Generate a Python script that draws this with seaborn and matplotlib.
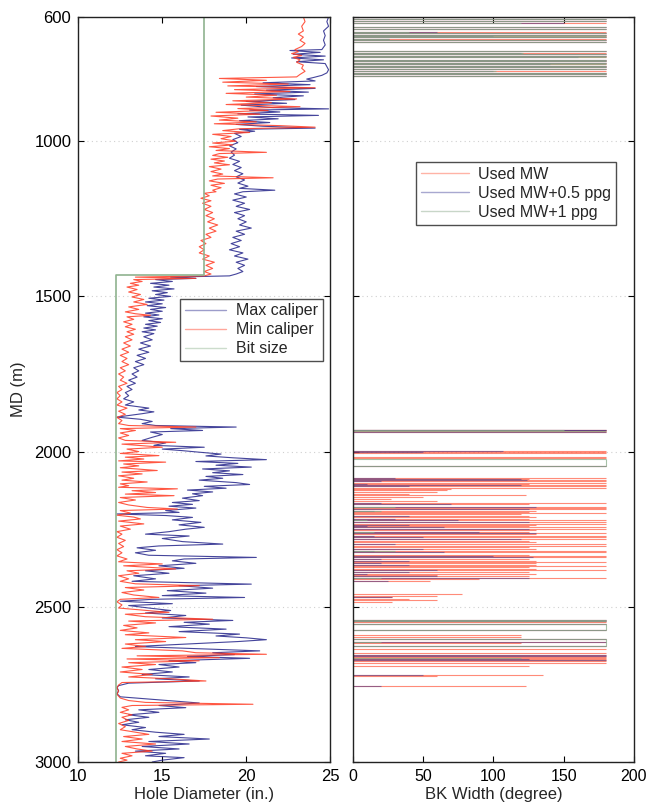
import numpy as np
import pandas as pd
import matplotlib
matplotlib.use("Agg")
import matplotlib.pyplot as plt
import seaborn as sns

# ---- caliper log (MD in m, diameter in inches) ----
max_depth = [600, 615, 630, 645, 660, 675, 690, 705, 708, 714, 720, 726, 732, 738, 744, 750, 760, 770, 780, 788,
             795, 800, 806, 812, 818, 824, 830, 836, 842, 848, 854, 860, 866, 872, 878, 884, 892, 896, 900, 906,
             912, 917, 922, 928, 934, 940, 946, 952, 958, 962, 968, 975, 985, 995, 1005, 1015, 1025, 1035, 1045, 1055,
             1065, 1075, 1085, 1095, 1105, 1115, 1125, 1135, 1145, 1152, 1158, 1163, 1170, 1180, 1190, 1200, 1210, 1220, 1230, 1240,
             1250, 1260, 1270, 1280, 1290, 1300, 1310, 1320, 1330, 1340, 1350, 1360, 1370, 1380, 1390, 1400, 1410, 1420, 1428, 1434,
             1438, 1442, 1446, 1452, 1458, 1464, 1470, 1476, 1482, 1488, 1494, 1500, 1506, 1512, 1518, 1524, 1530, 1536, 1542, 1548,
             1554, 1560, 1566, 1572, 1578, 1584, 1590, 1596, 1602, 1608, 1614, 1620, 1630, 1640, 1650, 1660, 1670, 1680, 1690, 1700,
             1710, 1720, 1730, 1740, 1750, 1760, 1770, 1780, 1790, 1800, 1810, 1820, 1830, 1840, 1850, 1860, 1866, 1872, 1878, 1889,
             1896, 1903, 1910, 1916, 1921, 1926, 1932, 1937, 1945, 1954, 1964, 1972, 1980, 1986, 1992, 1997, 2002, 2008, 2014, 2020,
             2026, 2032, 2038, 2044, 2050, 2056, 2062, 2068, 2074, 2080, 2086, 2092, 2100, 2106, 2112, 2118, 2124, 2130, 2136, 2142,
             2150, 2158, 2164, 2170, 2176, 2182, 2190, 2196, 2201, 2206, 2212, 2220, 2228, 2236, 2244, 2250, 2258, 2266, 2272, 2280,
             2290, 2298, 2304, 2310, 2318, 2326, 2334, 2341, 2346, 2352, 2360, 2368, 2376, 2384, 2392, 2400, 2410, 2418, 2427, 2432,
             2440, 2448, 2456, 2464, 2470, 2476, 2482, 2490, 2496, 2504, 2512, 2520, 2528, 2536, 2544, 2550, 2556, 2564, 2572, 2580,
             2588, 2594, 2600, 2606, 2612, 2620, 2628, 2636, 2642, 2648, 2654, 2660, 2666, 2674, 2680, 2686, 2694, 2702, 2710, 2718,
             2726, 2732, 2739, 2746, 2754, 2760, 2770, 2780, 2790, 2803, 2810, 2818, 2825, 2832, 2840, 2848, 2856, 2864, 2872, 2880,
             2889, 2896, 2904, 2911, 2918, 2926, 2934, 2942, 2950, 2958, 2965, 2972, 2980, 2986, 2994, 3000]
max_caliper = [24.9, 24.8, 24.9, 24.6, 24.7, 24.6, 24.7, 24.5, 22.6, 24.4, 22.8, 24.7, 22.7, 24.6, 23.0, 24.7, 24.8, 24.9, 24.8, 24.5,
               24.0, 23.6, 24.1, 21.0, 23.8, 20.6, 24.1, 21.2, 23.7, 20.5, 23.4, 21.6, 22.9, 20.0, 22.4, 19.7, 21.6, 24.9, 20.2, 22.0,
               19.5, 24.3, 20.1, 21.9, 19.6, 21.4, 19.4, 21.0, 24.1, 19.6, 20.5, 19.3, 19.7, 19.2, 19.5, 19.0, 19.4, 19.1, 19.3, 19.0,
               19.6, 19.2, 19.7, 19.3, 19.8, 19.4, 19.9, 19.5, 20.1, 19.6, 21.7, 19.8, 19.3, 20.0, 19.2, 19.9, 19.4, 20.2, 19.3, 19.9,
               19.5, 20.0, 19.6, 20.3, 19.4, 19.9, 19.2, 19.7, 19.1, 19.6, 19.0, 19.8, 19.3, 20.1, 19.4, 19.9, 19.5, 19.8, 19.4, 19.0,
               15.5, 17.0, 14.6, 15.6, 14.3, 15.4, 14.5, 15.7, 14.4, 15.3, 14.6, 15.5, 14.2, 15.1, 14.0, 15.0, 14.1, 15.2, 14.3, 15.0,
               14.0, 14.8, 13.9, 15.0, 14.2, 14.9, 14.0, 14.7, 13.9, 14.6, 13.8, 14.5, 13.9, 14.4, 13.7, 14.3, 13.6, 14.2, 13.5, 14.0,
               13.4, 13.9, 13.3, 13.6, 13.2, 13.5, 13.0, 13.4, 12.9, 13.2, 12.8, 13.0, 12.7, 13.3, 12.8, 14.2, 13.6, 14.5, 13.8, 12.3,
               13.7, 14.4, 13.8, 14.6, 19.4, 15.5, 17.4, 14.3, 15.0, 14.4, 13.8, 15.2, 14.5, 17.5, 15.0, 16.2, 17.2, 18.5, 17.6, 19.2,
               21.2, 17.0, 19.5, 18.2, 20.3, 17.4, 19.0, 18.0, 19.8, 17.6, 18.6, 17.2, 19.4, 20.2, 17.5, 18.8, 16.5, 18.0, 16.8, 17.4,
               16.2, 17.2, 15.6, 16.8, 15.4, 17.0, 15.2, 16.0, 12.3, 15.2, 16.8, 15.6, 17.3, 16.0, 17.5, 16.4, 15.4, 14.0, 16.6, 15.0,
               16.2, 18.6, 14.8, 13.5, 14.6, 13.4, 14.2, 20.6, 16.3, 15.6, 17.0, 14.8, 16.3, 14.0, 15.4, 13.3, 14.6, 13.2, 20.3, 16.0,
               18.0, 15.3, 17.6, 15.0, 19.9, 14.4, 12.5, 15.6, 13.0, 14.2, 15.5, 14.0, 16.4, 15.0, 19.2, 16.3, 17.8, 15.4, 18.8, 16.0,
               19.6, 18.2, 20.0, 21.2, 19.5, 16.5, 13.4, 17.6, 20.8, 18.0, 19.3, 16.5, 20.2, 15.4, 17.0, 14.8, 16.0, 14.2, 15.6, 13.8,
               16.6, 14.6, 17.2, 13.0, 12.4, 12.3, 12.4, 12.3, 12.5, 15.6, 17.2, 14.8, 16.4, 13.6, 14.8, 13.0, 14.2, 12.8, 13.6, 12.6,
               14.0, 13.2, 14.6, 16.3, 14.8, 17.8, 14.2, 16.6, 13.8, 16.0, 13.4, 15.2, 14.0, 16.3, 15.0, 14.4]

min_depth = [600, 615, 630, 645, 655, 665, 675, 685, 695, 705, 712, 718, 724, 730, 738, 746, 755, 765, 775, 785,
             793, 798, 804, 810, 816, 822, 828, 834, 840, 846, 852, 858, 864, 870, 876, 882, 889, 895, 901, 907,
             913, 919, 926, 932, 938, 944, 950, 955, 960, 966, 972, 978, 985, 992, 1000, 1006, 1012, 1018, 1024, 1030,
             1036, 1040, 1046, 1052, 1058, 1064, 1070, 1076, 1082, 1090, 1098, 1106, 1112, 1118, 1122, 1128, 1136, 1142, 1150, 1158,
             1163, 1168, 1176, 1184, 1192, 1200, 1210, 1220, 1230, 1240, 1250, 1260, 1270, 1280, 1290, 1300, 1310, 1320, 1330, 1340,
             1350, 1360, 1370, 1380, 1390, 1400, 1410, 1420, 1428, 1434, 1438, 1442, 1446, 1452, 1458, 1464, 1470, 1478, 1486, 1494,
             1502, 1510, 1518, 1526, 1534, 1542, 1550, 1556, 1561, 1566, 1574, 1582, 1590, 1598, 1606, 1614, 1622, 1630, 1640, 1650,
             1660, 1670, 1680, 1690, 1700, 1710, 1720, 1730, 1740, 1750, 1760, 1770, 1780, 1790, 1800, 1810, 1820, 1830, 1840, 1850,
             1860, 1870, 1880, 1890, 1900, 1910, 1916, 1921, 1926, 1932, 1940, 1948, 1956, 1964, 1970, 1976, 1986, 1992, 2000, 2006,
             2013, 2018, 2024, 2030, 2034, 2040, 2046, 2052, 2061, 2066, 2072, 2078, 2086, 2092, 2098, 2104, 2110, 2115, 2120, 2126,
             2132, 2137, 2142, 2148, 2156, 2164, 2172, 2180, 2185, 2190, 2198, 2205, 2211, 2217, 2224, 2233, 2240, 2250, 2258, 2266,
             2276, 2286, 2296, 2306, 2316, 2326, 2336, 2346, 2355, 2362, 2368, 2378, 2384, 2392, 2400, 2410, 2418, 2426, 2432, 2438,
             2446, 2454, 2462, 2470, 2476, 2484, 2494, 2504, 2510, 2518, 2524, 2532, 2540, 2546, 2552, 2560, 2568, 2576, 2584, 2590,
             2599, 2606, 2612, 2620, 2628, 2634, 2642, 2648, 2653, 2658, 2664, 2668, 2674, 2680, 2686, 2694, 2702, 2710, 2718, 2726,
             2732, 2739, 2744, 2752, 2762, 2772, 2782, 2794, 2802, 2808, 2814, 2818, 2824, 2832, 2840, 2848, 2856, 2866, 2876, 2886,
             2896, 2904, 2911, 2918, 2926, 2934, 2942, 2950, 2958, 2965, 2972, 2980, 2988, 2994, 3000]
min_caliper = [23.4, 23.5, 23.3, 23.4, 23.1, 23.4, 23.2, 23.5, 23.3, 22.9, 23.1, 22.7, 23.3, 22.8, 23.2, 23.0, 23.4, 23.3, 23.5, 23.2,
               23.0, 18.4, 21.2, 18.6, 22.5, 18.9, 24.1, 19.3, 22.6, 18.8, 21.8, 20.0, 23.0, 19.2, 21.5, 18.8, 23.2, 19.5, 21.3, 18.2,
               20.8, 17.9, 19.5, 18.4, 20.6, 18.1, 22.0, 24.1, 19.6, 18.6, 20.2, 18.0, 19.1, 18.5, 19.4, 18.0, 19.2, 17.8, 19.0, 18.2,
               21.2, 18.4, 18.0, 18.9, 17.9, 18.7, 18.1, 19.0, 17.8, 18.5, 17.9, 18.6, 18.0, 21.6, 18.3, 17.8, 18.7, 17.9, 18.5, 18.0,
               18.2, 17.5, 17.8, 17.3, 17.9, 17.4, 17.9, 17.5, 18.0, 17.6, 18.1, 17.7, 18.3, 17.8, 18.2, 17.6, 17.9, 17.3, 17.6, 17.2,
               17.5, 17.2, 17.8, 17.4, 18.1, 17.6, 18.0, 17.5, 17.9, 17.5, 13.4, 17.0, 13.3, 13.8, 13.1, 13.6, 12.9, 13.5, 13.0, 13.7,
               13.2, 13.9, 13.3, 14.1, 13.0, 13.6, 12.8, 13.4, 14.3, 12.9, 13.3, 12.7, 13.2, 12.8, 13.4, 12.9, 13.3, 12.8, 13.2, 12.7,
               13.1, 12.6, 13.0, 12.5, 12.9, 12.6, 13.0, 12.5, 12.8, 12.4, 12.7, 12.5, 12.9, 12.4, 12.6, 12.3, 12.5, 12.3, 12.6, 12.3,
               12.9, 12.4, 12.8, 12.3, 12.6, 12.4, 13.0, 17.0, 12.5, 13.4, 12.5, 13.0, 12.4, 12.8, 15.8, 12.6, 15.0, 12.9, 13.6, 12.5,
               14.8, 12.8, 13.9, 12.4, 15.2, 12.7, 13.6, 12.5, 14.7, 12.6, 13.8, 12.4, 13.3, 12.6, 14.1, 12.5, 13.0, 12.4, 15.9, 13.2,
               14.6, 12.8, 15.7, 12.5, 13.4, 12.4, 13.0, 14.1, 15.9, 12.5, 13.1, 12.3, 13.3, 13.7, 12.4, 13.9, 12.5, 13.1, 12.3, 12.6,
               12.3, 12.8, 12.4, 12.7, 12.3, 12.6, 12.3, 12.9, 12.4, 15.0, 12.7, 15.8, 12.9, 13.6, 12.4, 13.0, 12.5, 13.4, 17.2, 12.8,
               13.9, 12.6, 13.3, 14.8, 12.5, 12.3, 12.6, 12.4, 13.7, 15.4, 12.8, 14.0, 18.0, 13.0, 14.6, 12.7, 13.5, 12.5, 14.2, 12.8,
               16.4, 13.4, 15.2, 12.8, 14.0, 12.6, 16.2, 17.0, 21.2, 13.5, 18.4, 12.9, 17.2, 13.0, 14.6, 12.6, 13.8, 12.5, 14.4, 13.0,
               15.5, 17.6, 12.6, 12.4, 12.3, 12.4, 12.3, 12.5, 13.0, 14.0, 20.4, 13.2, 12.6, 13.0, 12.5, 13.2, 12.6, 13.0, 12.4, 12.8,
               12.5, 13.4, 14.2, 12.7, 13.8, 12.6, 14.6, 12.8, 13.5, 14.4, 12.6, 13.2, 12.5, 12.9, 12.4]

bit_depth = [600, 1432, 1432, 3000]
bit_size = [17.5, 17.5, 12.25, 12.25]

# ---- breakout widths (degrees) at MD (m) ----
top_depths = [606, 612, 620, 633, 638, 647, 653, 657, 661, 666, 670, 674, 679,
              709, 715, 720, 726, 730, 737, 742, 747, 752, 757, 762, 769, 774, 780, 784, 790]

bk_mw_depth = top_depths + [1929, 1931, 1933, 1938, 1999, 2002, 2005, 2018, 2020, 2048,
                            2085, 2088, 2092, 2096, 2100, 2104, 2108, 2112, 2117, 2120, 2124, 2131, 2136, 2140, 2146,
                            2153, 2158, 2165, 2170, 2177, 2181, 2185, 2190, 2194, 2198, 2201, 2206, 2212, 2217, 2222,
                            2228, 2232, 2236, 2240, 2244, 2248, 2253, 2258, 2263, 2267, 2271, 2276, 2282, 2287, 2292,
                            2297, 2303, 2308, 2314, 2319, 2325, 2332, 2336, 2341, 2346, 2352, 2356, 2360, 2364, 2369,
                            2373, 2378, 2383, 2389, 2393, 2397, 2402, 2408, 2412, 2416,
                            2459, 2464, 2468, 2474, 2479, 2486,
                            2543, 2545, 2549, 2554, 2576, 2592, 2597, 2604, 2612, 2618, 2626, 2636,
                            2650, 2654, 2658, 2662, 2665, 2668, 2672, 2676, 2680, 2690, 2720, 2723, 2756]
bk_mw_width = [180] * len(top_depths) + [180, 180, 180, 180, 180, 180, 180, 180, 180, 180,
                                         180, 125, 180, 180, 180, 125, 180, 180, 180, 70, 67, 60, 40, 123, 50,
                                         27, 60, 180, 125, 180, 180, 180, 130, 125, 180, 120, 125, 130, 125, 180,
                                         180, 180, 130, 125, 180, 180, 130, 125, 180, 130, 180, 180, 180, 125, 130,
                                         180, 180, 125, 130, 180, 180, 125, 180, 180, 125, 130, 180, 130, 130, 180,
                                         125, 130, 180, 125, 130, 60, 125, 180, 90, 55,
                                         78, 60, 28, 40, 60, 28,
                                         180, 180, 180, 180, 180, 120, 120, 180, 180, 120, 180, 180,
                                         180, 180, 180, 180, 180, 180, 180, 180, 180, 125, 135, 60, 123]

bk_05_depth = top_depths + [1929, 1931, 1938, 1999, 2002, 2048,
                            2085, 2088, 2092, 2096, 2104, 2108, 2112, 2165, 2170, 2177, 2185, 2190, 2206, 2217,
                            2222, 2228, 2236, 2240, 2244, 2248, 2258, 2263, 2271, 2276, 2282, 2297, 2314, 2319,
                            2325, 2336, 2341, 2346, 2352, 2360, 2364, 2383, 2389, 2393, 2402, 2408, 2416,
                            2468, 2543, 2545, 2554, 2576, 2604, 2614, 2626, 2654, 2658, 2668, 2672, 2720, 2756]
bk_05_width = [180, 180, 150, 180, 180, 60, 180, 180, 100, 180, 26, 180, 180,
               180, 120, 180, 180, 160, 180, 180, 180, 140, 180, 180, 180, 100, 180, 180, 180] + \
              [180, 180, 180, 107, 50, 180,
               30, 120, 124, 20, 10, 120, 40, 20, 70, 130, 125, 15, 40, 30,
               75, 125, 40, 10, 65, 125, 90, 130, 15, 50, 120, 30, 50, 15,
               65, 100, 128, 20, 40, 20, 40, 60, 40, 10, 60, 125, 25,
               28, 180, 180, 180, 180, 180, 180, 180, 180, 180, 125, 180, 50, 20]

bk_1_depth = top_depths + [1929, 1933, 2023, 2048, 2177, 2190, 2222, 2258, 2319, 2408,
                           2543, 2545, 2556, 2576, 2604, 2612, 2626, 2665]
bk_1_width = [180, 180, 120, 180, 180, 40, 180, 180, 180, 180, 26, 180, 180,
              180, 121, 180, 180, 180, 180, 180, 180, 180, 180, 180, 180, 102, 180, 180, 180] + \
             [150, 180, 180, 180, 30, 20, 10, 15, 30, 20,
              180, 180, 180, 180, 180, 20, 180, 120]

# depth intervals where the +1 ppg breakout stays at 180 degrees
bk_1_full_top = [2023, 2556, 2604]
bk_1_full_bot = [2048, 2576, 2626]

# ---- styling ----
sns.set_theme(style="ticks")
plt.rcParams["font.family"] = ["Liberation Sans", "DejaVu Sans"]

c_max = "#24248a"
c_min = "#ff3a22"
c_bit = "#8fb38f"

fig = plt.figure(figsize=(6.46, 8.09), dpi=100)
ax1 = fig.add_axes([0.1212, 0.0581, 0.3900, 0.9209])
ax2 = fig.add_axes([0.5460, 0.0581, 0.4354, 0.9209])

df_max = pd.DataFrame({"depth": max_depth, "cal": max_caliper})
df_min = pd.DataFrame({"depth": min_depth, "cal": min_caliper})

sns.lineplot(data=df_max, x="cal", y="depth", orient="y", sort=False, estimator=None,
             color=c_max, lw=0.8, alpha=0.85, ax=ax1, label="Max caliper")
sns.lineplot(data=df_min, x="cal", y="depth", orient="y", sort=False, estimator=None,
             color=c_min, lw=0.8, alpha=0.85, ax=ax1, label="Min caliper")
ax1.plot(bit_size, bit_depth, color=c_bit, lw=1.2, label="Bit size")

# breakout widths drawn as horizontal sweeps from 0 to the width
c_mw, c_05, c_1 = "#ff5a40", "#30308e", "#8aac8a"
ax2.hlines(bk_mw_depth, 0, bk_mw_width, color=c_mw, lw=0.8, alpha=0.7)
ax2.hlines(bk_05_depth, 0, bk_05_width, color=c_05, lw=0.8, alpha=0.5)
ax2.hlines(bk_1_depth, 0, bk_1_width, color=c_1, lw=0.8, alpha=0.75)
ax2.vlines([180] * len(bk_1_full_top), bk_1_full_top, bk_1_full_bot, color=c_1, lw=0.8, alpha=0.75)
ax2.plot([], [], color="#ffb3a6", lw=1.0, label="Used MW")
ax2.plot([], [], color="#a8a8d0", lw=1.0, label="Used MW+0.5 ppg")
ax2.plot([], [], color="#c8d6c8", lw=1.0, label="Used MW+1 ppg")

yticks = [600, 1000, 1500, 2000, 2500, 3000]
for ax in (ax1, ax2):
    ax.set_ylim(3000, 600)
    ax.set_yticks(yticks)
    ax.tick_params(direction="in", top=True, right=True, length=4.5, width=0.8,
                   labelsize=12, colors="black", pad=5)
    ax.yaxis.grid(True, linestyle=(0, (1, 3)), color="#d0d0d0", lw=0.8)
    for s in ax.spines.values():
        s.set_color("#222222")
        s.set_linewidth(1.0)

ax1.set_xlim(10, 25)
ax1.set_xticks([10, 15, 20, 25])
ax1.set_xlabel("Hole Diameter (in.)", fontsize=12, labelpad=2)
ax1.set_ylabel("MD (m)", fontsize=12, labelpad=6)

ax2.set_xlim(0, 200)
ax2.set_xticks([0, 50, 100, 150, 200])
ax2.set_yticklabels([])
ax2.tick_params(axis="x", labelsize=11.5)
ax2.set_xlabel("BK Width (degree)", fontsize=12, labelpad=2)
ax2.set_ylabel("")

leg1 = ax1.legend(loc="upper right", bbox_to_anchor=(0.97, 0.622), fontsize=11.5, frameon=True,
                  fancybox=False, edgecolor="#222222", handlelength=2.6, borderpad=0.3,
                  labelspacing=0.25, handletextpad=0.6, borderaxespad=0)
leg1.get_frame().set_linewidth(1.0)
for h in leg1.get_lines():
    h.set_alpha(0.45)
    h.set_linewidth(1.0)

leg2 = ax2.legend(loc="upper right", bbox_to_anchor=(0.936, 0.805), fontsize=11.5, frameon=True,
                  fancybox=False, edgecolor="#222222", handlelength=3.0, borderpad=0.3,
                  labelspacing=0.25, handletextpad=0.6, borderaxespad=0)
leg2.get_frame().set_linewidth(1.0)

fig.savefig("out.png", dpi=100, facecolor="white")
